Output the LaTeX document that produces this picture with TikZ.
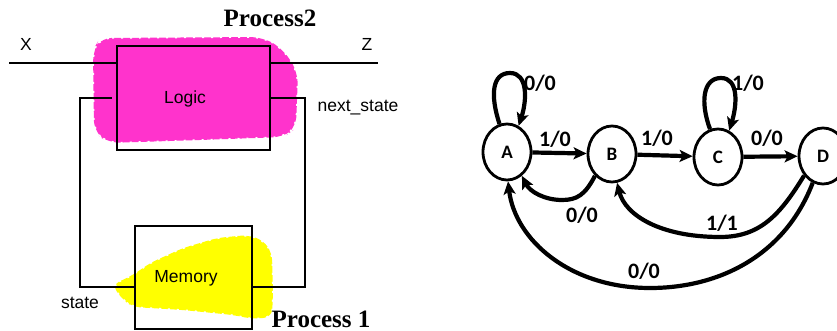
\documentclass[tikz,border=0pt]{standalone}
\usepackage{fontspec}
\setmainfont{Liberation Sans}
\newfontfamily\procfont{Liberation Serif}
\newfontfamily\grfont{Carlito}
\usetikzlibrary{arrows.meta,shapes.geometric}
\definecolor{blobpink}{HTML}{FF33CC}
\definecolor{blobyellow}{HTML}{FFFF00}
\tikzset{
  wire/.style={line width=2.3pt,line cap=rect},
  blockbox/.style={draw,line width=2.3pt,inner sep=0pt},
  lbl/.style={anchor=base,inner sep=0pt,font=\fontsize{17.5}{20}\selectfont},
  proc/.style={anchor=base,inner sep=0pt,font=\procfont\bfseries\fontsize{25}{28}\selectfont},
  state/.style={ellipse,draw,line width=2.8pt,minimum width=48pt,minimum height=56pt,inner sep=0pt,font=\grfont\bfseries\fontsize{19}{21}\selectfont},
  edge/.style={line width=4.2pt,-{Stealth[length=13pt,width=12pt,inset=3pt]}},
  elbl/.style={anchor=base,inner sep=0pt,font=\grfont\bfseries\fontsize{22}{24}\selectfont},
  blobedge/.style={draw=white,line width=1.5pt,dash pattern=on 2pt off 7pt}
}
\begin{document}
\begin{tikzpicture}[x=1pt,y=-1pt]
\useasboundingbox (0,0) rectangle (837,331);
% blobs
\path[fill=blobpink,blobedge,rounded corners=12pt]
  (100,38) -- (262,37) -- (282,48) -- (298,72) -- (296,128) -- (284,137)
  -- (200,140) -- (108,143) -- (94,132) -- (93,50) -- cycle;
\path[fill=blobyellow,blobedge,rounded corners=8pt]
  (112,285) -- (133,275) -- (150,263) -- (183,248) -- (217,238) -- (247,235)
  -- (263,240) -- (272,253) -- (273,293) -- (272,317) -- (253,319) -- (233,315)
  -- (183,310) -- (133,307) -- (123,300) -- cycle;
% blocks
\node[blockbox,minimum width=153pt,minimum height=104pt] (logic) at (193.5,98) {};
\node[blockbox,minimum width=117pt,minimum height=103pt] (mem) at (193.5,277.5) {};
\node[lbl] (logictxt) at (185,104) {Logic};
\node[lbl] (memtxt) at (186,282) {Memory};
% wires
\coordinate (xin) at (10,63);
\coordinate (xend) at (117,63);
\coordinate (zst) at (270,63);
\coordinate (zout) at (377,63);
\coordinate (fbl0) at (111,98);
\coordinate (fbl1) at (80,98);
\coordinate (fbl2) at (80,287);
\coordinate (fbl3) at (135,287);
\coordinate (fbr0) at (270,98);
\coordinate (fbr1) at (305,98);
\coordinate (fbr2) at (305,287);
\coordinate (fbr3) at (252,287);
\draw[wire] (xin) -- (xend);
\draw[wire] (zst) -- (zout);
\draw[wire] (fbl0) -- (fbl1) -- (fbl2) -- (fbl3);
\draw[wire] (fbr0) -- (fbr1) -- (fbr2) -- (fbr3);
\node[lbl] (xl) at (26,51) {X};
\node[lbl] (zl) at (367,51) {Z};
\node[lbl] (nsl) at (358,112) {next\_state};
\node[lbl] (stl) at (80,308) {state};
\node[proc] (p2) at (270,27) {Process2};
\node[proc] (p1) at (321,327) {Process 1};
% state graph
\node[state] (A) at (507,152) {A};
\node[state] (B) at (612,154) {B};
\node[state] (C) at (718,157) {C};
\node[state] (D) at (823,156) {D};
\draw[edge] (A) -- (B);
\draw[edge] (B) -- (C);
\draw[edge] (C) -- (D);
\draw[edge] (A.105) .. controls (490,95) and (492,73) .. (510,73) .. controls (528,73) and (527,100) .. (A.66);
\draw[edge] (C.106) .. controls (700,102) and (703,78) .. (721,78) .. controls (739,78) and (737,105) .. (C.67);
\draw[edge] (B.232) .. controls (585,195) and (577,200) .. (562,200) .. controls (545,200) and (530,192) .. (A.-58);
\draw[edge] (D.226) .. controls (780,215) and (760,237) .. (720,237) .. controls (660,237) and (625,215) .. (B.-80);
\draw[edge] (D.249) .. controls (785,255) and (720,288) .. (650,288) .. controls (570,288) and (515,240) .. (A.-88);
\node[elbl] (l1) at (540,91) {0/0};
\node[elbl] (l2) at (555,147) {1/0};
\node[elbl] (l3) at (657,146) {1/0};
\node[elbl] (l4) at (748,91) {1/0};
\node[elbl] (l5) at (767,146) {0/0};
\node[elbl] (l6) at (582,222) {0/0};
\node[elbl] (l7) at (722,230) {1/1};
\node[elbl] (l8) at (644,278) {0/0};
\end{tikzpicture}
\end{document}
